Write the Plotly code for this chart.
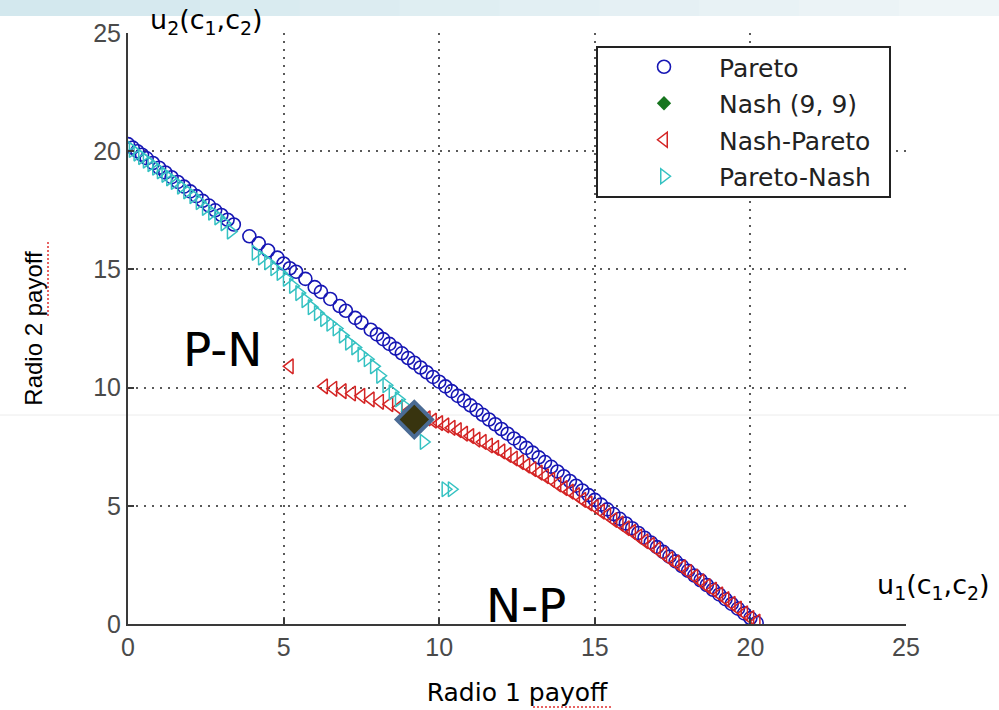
import plotly.graph_objects as go

# ---------------- data ----------------
pareto_x = [0.0, 0.15, 0.3, 0.45, 0.6, 0.8, 1.0, 1.2, 1.4, 1.6, 1.8, 2.0, 2.2, 2.4, 2.6, 2.8, 3.0, 3.2, 3.4,
            3.9, 4.2, 4.5, 4.8,
            5.0, 5.2, 5.4, 5.7, 6.0, 6.2, 6.5, 6.8, 7.0, 7.3, 7.5, 7.8,
            8.0, 8.2, 8.4, 8.6, 8.8, 9.0, 9.2, 9.4, 9.6, 9.8, 10.0, 10.2, 10.4, 10.6, 10.8,
            11.0, 11.2, 11.4, 11.6, 11.8, 12.0, 12.2, 12.4, 12.6, 12.8, 13.0, 13.2, 13.4, 13.6, 13.8,
            14.0, 14.2, 14.4, 14.6, 14.8, 15.0, 15.2, 15.4, 15.6, 15.8, 16.0, 16.2, 16.4, 16.6, 16.8,
            17.0, 17.2, 17.4, 17.6, 17.8, 18.0, 18.2, 18.4, 18.6, 18.8, 19.0, 19.2, 19.4, 19.6, 19.8,
            20.0, 20.2]
pareto_y = [20.3, 20.15, 20.0, 19.85, 19.7, 19.5, 19.3, 19.1, 18.9, 18.7, 18.5, 18.3, 18.1, 17.9, 17.7, 17.5, 17.3, 17.1, 16.9,
            16.4, 16.1, 15.8, 15.5,
            15.25, 15.05, 14.9, 14.6, 14.25, 14.05, 13.75, 13.45, 13.25, 12.95, 12.75, 12.45,
            12.25, 12.05, 11.85, 11.65, 11.45, 11.25, 11.05, 10.85, 10.65, 10.45, 10.25, 10.05, 9.85, 9.65, 9.45,
            9.25, 9.05, 8.85, 8.65, 8.45, 8.25, 8.05, 7.85, 7.65, 7.45, 7.25, 7.05, 6.85, 6.65, 6.45,
            6.25, 6.05, 5.85, 5.65, 5.45, 5.25, 5.05, 4.85, 4.65, 4.45, 4.25, 4.05, 3.85, 3.65, 3.45,
            3.25, 3.05, 2.85, 2.65, 2.45, 2.25, 2.05, 1.85, 1.65, 1.45, 1.25, 1.05, 0.85, 0.65, 0.45,
            0.25, 0.05]

nash_x = [9.2]
nash_y = [8.65]

np_x = [5.2,
        6.3, 6.6, 6.9, 7.2, 7.5, 7.8, 8.1, 8.4, 8.7,
        9.0,
        9.6, 9.8, 10.0, 10.2, 10.4, 10.6, 10.8, 11.0, 11.2, 11.4, 11.6, 11.8,
        12.0, 12.2, 12.4, 12.6, 12.8, 13.0, 13.2, 13.4, 13.6, 13.8, 14.0, 14.2, 14.4, 14.6, 14.8,
        15.0, 15.2, 15.4, 15.6, 15.8, 16.0, 16.2, 16.4, 16.6, 16.8, 17.0, 17.2, 17.4, 17.6, 17.8,
        18.0, 18.2, 18.4, 18.6, 18.8, 19.0, 19.2, 19.4, 19.6, 19.8, 20.0, 20.2]
np_y = [10.9,
        10.05, 9.95, 9.85, 9.75, 9.65, 9.5, 9.4, 9.3, 9.15,
        9.0,
        8.7, 8.6, 8.5, 8.4, 8.3, 8.2, 8.05, 7.95, 7.8, 7.7, 7.55, 7.45,
        7.3, 7.15, 7.0, 6.85, 6.7, 6.55, 6.4, 6.25, 6.1, 5.9, 5.75, 5.6, 5.45, 5.25, 5.1,
        4.95, 4.75, 4.6, 4.4, 4.25, 4.05, 3.9, 3.7, 3.5, 3.35, 3.15, 2.95, 2.75, 2.6, 2.4,
        2.2, 2.0, 1.8, 1.6, 1.45, 1.25, 1.05, 0.85, 0.65, 0.45, 0.25, 0.1]

pn_x = [0.0, 0.15, 0.3, 0.45, 0.6, 0.75, 0.9, 1.05, 1.2, 1.35, 1.5, 1.7, 1.9, 2.1, 2.3, 2.5, 2.7, 2.9, 3.1, 3.3,
        4.1, 4.3, 4.5, 4.7, 4.9, 5.1, 5.3, 5.5, 5.7, 5.9, 6.1, 6.3, 6.5, 6.7, 6.9, 7.1, 7.3, 7.5, 7.7, 7.9,
        8.1, 8.3, 8.5, 8.7, 8.9,
        9.5, 10.2, 10.4]
pn_y = [20.2, 20.05, 19.9, 19.75, 19.6, 19.45, 19.3, 19.15, 19.0, 18.85, 18.7, 18.5, 18.3, 18.1, 17.85, 17.6, 17.4, 17.2, 16.95, 16.6,
        15.7, 15.5, 15.3, 15.05, 14.85, 14.6, 14.3, 14.0, 13.7, 13.4, 13.15, 12.9, 12.7, 12.5, 12.2, 11.9, 11.7, 11.4, 11.2, 10.9,
        10.5, 10.1, 9.8, 9.5, 9.2,
        7.7, 5.7, 5.7]

tick_vals = [0, 5, 10, 15, 20, 25]
tick_text = ["0", "5", "10", "15", "20", "25"]

ARIAL = "Liberation Sans, Arial, sans-serif"
WIDE = "DejaVu Sans, Verdana, sans-serif"

# plot-area pixel geometry (for paper-coordinate decorations)
L, R, T, B = 128, 906, 33, 624
PW, PH = R - L, B - T


def px(xp):
    return (xp - L) / PW


def py(yp):
    return (B - yp) / PH


fig = go.Figure()
fig.add_trace(go.Scatter(x=pareto_x, y=pareto_y, mode="markers", name="Pareto", legendgroup="a",
                         marker=dict(symbol="circle-open", size=13, color="#1616b4",
                                     line=dict(width=1.6, color="#1616b4"))))
fig.add_trace(go.Scatter(x=nash_x, y=nash_y, mode="markers", name="Nash (9, 9)", legendgroup="b",
                         marker=dict(symbol="diamond", size=11, color="#17751f")))
fig.add_trace(go.Scatter(x=np_x, y=np_y, mode="markers", name="Nash-Pareto", legendgroup="c",
                         marker=dict(symbol="triangle-left-open", size=13, color="#d42424",
                                     line=dict(width=1.5, color="#d42424"))))
fig.add_trace(go.Scatter(x=pn_x, y=pn_y, mode="markers", name="Pareto-Nash", legendgroup="d",
                         marker=dict(symbol="triangle-right-open", size=13, color="#35c2c2",
                                     line=dict(width=1.5, color="#35c2c2"))))
# highlighted Nash point
fig.add_trace(go.Scatter(x=nash_x, y=nash_y, mode="markers", showlegend=False, hoverinfo="skip",
                         marker=dict(symbol="diamond", size=27, color="#38340f",
                                     line=dict(width=4, color="#4a6b94"))))

axis_common = dict(
    range=[0, 25], tickvals=tick_vals, ticktext=tick_text, automargin=False,
    showline=True, linecolor="#3a3a3a", linewidth=2, mirror=False,
    ticks="inside", ticklen=6, tickwidth=1.5, tickcolor="#3a3a3a",
    showgrid=True, gridcolor="#5a5a5a", gridwidth=1.5, griddash="2px,6px",
    zeroline=False, tickfont=dict(family=ARIAL, size=25, color="#4a4a4a"),
)

fig.update_layout(
    width=999, height=710,
    margin=dict(l=L, r=999 - R, t=T, b=710 - B, autoexpand=False),
    paper_bgcolor="white", plot_bgcolor="white",
    font=dict(family=ARIAL, color="black"),
    xaxis=dict(**axis_common,
               title=dict(text="Radio 1 payoff", font=dict(family=WIDE, size=25, color="black"), standoff=23)),
    yaxis=dict(**axis_common,
               title=dict(text="Radio 2 payoff", font=dict(family=ARIAL, size=24, color="black"), standoff=44)),
    legend=dict(x=px(609), y=py(44), xanchor="left", yanchor="top",
                bgcolor="rgba(0,0,0,0)", borderwidth=0,
                font=dict(family=WIDE, size=25, color="#222222"),
                itemwidth=100, tracegroupgap=1),
    showlegend=True,
)

# legend frame
fig.add_shape(type="rect", xref="paper", yref="paper", x0=px(597), x1=px(890), y0=py(197), y1=py(47),
              fillcolor="white", line=dict(color="#222222", width=2), layer="above")

# slide gradient band at the top
band_cols = ["#d3e8ee", "#d6e9ef", "#d9ebf0", "#dcecf1", "#dfeef2", "#e2eff3", "#e5f0f4", "#e8f2f5", "#ebf3f6", "#eef5f7"]
n = len(band_cols)
x_lo, x_hi = px(0), px(999)
for i, c in enumerate(band_cols):
    fig.add_shape(type="rect", xref="paper", yref="paper",
                  x0=x_lo + (x_hi - x_lo) * i / n, x1=x_lo + (x_hi - x_lo) * (i + 1) / n + 0.001,
                  y0=py(16), y1=py(-2),
                  fillcolor=c, line=dict(width=0), layer="below")
# faint slide line
fig.add_shape(type="line", xref="paper", yref="paper", x0=x_lo, x1=x_hi, y0=py(415), y1=py(415),
              line=dict(color="#ececec", width=1), layer="below")
# spell-check squiggles under "payoff"
fig.add_shape(type="line", xref="paper", yref="paper", x0=px(533), x1=px(612), y0=py(707), y1=py(707),
              line=dict(color="#e03030", width=1.5, dash="2px,2px"))
fig.add_shape(type="line", xref="paper", yref="paper", x0=px(48), x1=px(48), y0=py(242), y1=py(318),
              line=dict(color="#e03030", width=1.5, dash="2px,2px"))

# annotations
fig.add_annotation(x=3.05, y=11.61, xref="x", yref="y", text="P-N", showarrow=False,
                   xanchor="center", yanchor="middle",
                   font=dict(family=WIDE, size=47, color="black"))
fig.add_annotation(x=12.79, y=0.78, xref="x", yref="y", text="N-P", showarrow=False,
                   xanchor="center", yanchor="middle",
                   font=dict(family=WIDE, size=47, color="black"))
fig.add_annotation(x=px(206), y=py(22), xref="paper", yref="paper",
                   text="u<sub>2</sub>(c<sub>1</sub>,c<sub>2</sub>)", showarrow=False,
                   xanchor="center", yanchor="middle",
                   font=dict(family=WIDE, size=27, color="black"))
fig.add_annotation(x=px(933), y=py(586), xref="paper", yref="paper",
                   text="u<sub>1</sub>(c<sub>1</sub>,c<sub>2</sub>)", showarrow=False,
                   xanchor="center", yanchor="middle",
                   font=dict(family=WIDE, size=27, color="black"))

fig.write_html("out.html")
